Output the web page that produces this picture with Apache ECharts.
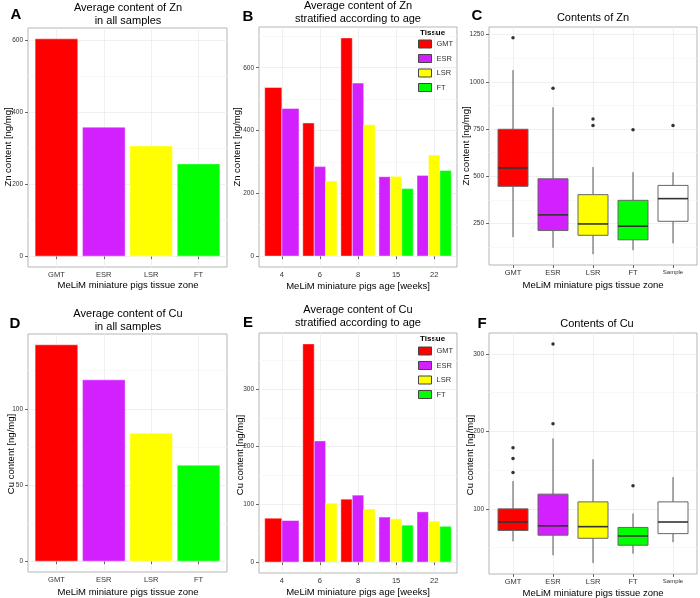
<!DOCTYPE html>
<html><head><meta charset="utf-8">
<script src="https://cdn.jsdelivr.net/npm/echarts@6/dist/echarts.min.js"></script>
<style>html,body{margin:0;padding:0;background:#fff}#c{width:700px;height:598px}</style>
</head><body><div id="c"></div>
<script>
// ---------------- DATA ----------------
const tissueZones = ['GMT', 'ESR', 'LSR', 'FT'];
const znMean = [603, 358, 306, 256];
const cuMean = [142, 119, 84, 63];

const ageWeeks = ['4', '6', '8', '15', '22'];
const znAgeGMT = [537, 424, 695, null, null];
const znAgeESR = [470, 285, 551, 253, 257];
const znAgeLSR = [null, 239, 418, 254, 322];
const znAgeFT  = [null, null, null, 215, 273];
const cuAgeGMT = [76, 378, 109, null, null];
const cuAgeESR = [72, 210, 116, 78, 87];
const cuAgeLSR = [null, 102, 92, 75, 71];
const cuAgeFT  = [null, null, null, 64, 62];

const boxZones = ['GMT', 'ESR', 'LSR', 'FT', 'Sample'];
const znBoxLow = [178, 122, 88, 109, 145];
const znBoxQ1  = [447, 213, 188, 164, 262];
const znBoxMed = [544, 296, 248, 236, 382];
const znBoxQ3  = [749, 487, 403, 373, 452];
const znBoxHigh = [1062, 865, 549, 522, 521];
const znOutlierZone = ['GMT', 'ESR', 'LSR', 'LSR', 'FT', 'Sample'];
const znOutlierVal  = [1233, 966, 804, 769, 746, 769];

const cuBoxLow = [58, 40, 30, 42, 57];
const cuBoxQ1  = [72, 66, 62, 53, 68];
const cuBoxMed = [83, 78, 77, 65, 83];
const cuBoxQ3  = [100, 119, 109, 76, 109];
const cuBoxHigh = [136, 191, 164, 94, 141];
const cuOutlierZone = ['GMT', 'GMT', 'GMT', 'ESR', 'ESR', 'FT'];
const cuOutlierVal  = [179, 165, 147, 313, 210, 130];

const znMeanTicks = [0, 200, 400, 600];
const znAgeTicks = [0, 200, 400, 600];
const znBoxTicks = [250, 500, 750, 1000, 1250];
const cuMeanTicks = [0, 50, 100];
const cuAgeTicks = [0, 100, 200, 300];
const cuBoxTicks = [100, 200, 300];

// ---------------- STYLE ----------------
const FONT = '"Liberation Sans", Arial, Helvetica, sans-serif';
const tissueColors = ['#ff0000', '#d220ff', '#ffff00', '#00ff00'];
const boxColors = ['#ff0000', '#d220ff', '#ffff00', '#00ff00', '#ffffff'];

function expand(lo, hi) { const d = hi - lo; return [lo - 0.05 * d, hi + 0.05 * d]; }
function minorOf(ticks, lo, hi) {
  const step = ticks[1] - ticks[0], out = [];
  for (let t = ticks[0] - step / 2; t <= hi; t += step) if (t >= lo) out.push(t);
  return out;
}
const nz = a => a.filter(v => v != null);

const panels = [
  { grid: {left: 28, top: 28, width: 199, height: 239}, cats: tissueZones, ticks: znMeanTicks,
    range: expand(0, Math.max(...znMean)) },
  { grid: {left: 259, top: 27, width: 198, height: 240}, cats: ageWeeks, ticks: znAgeTicks,
    range: expand(0, Math.max(...nz(znAgeGMT.concat(znAgeESR, znAgeLSR, znAgeFT)))) },
  { grid: {left: 489, top: 27, width: 208, height: 238}, cats: boxZones, ticks: znBoxTicks,
    range: expand(Math.min(...znBoxLow, ...znOutlierVal), Math.max(...znBoxHigh, ...znOutlierVal)) },
  { grid: {left: 28, top: 334, width: 199, height: 238}, cats: tissueZones, ticks: cuMeanTicks,
    range: expand(0, Math.max(...cuMean)) },
  { grid: {left: 259, top: 333, width: 198, height: 240}, cats: ageWeeks, ticks: cuAgeTicks,
    range: expand(0, Math.max(...nz(cuAgeGMT.concat(cuAgeESR, cuAgeLSR, cuAgeFT)))) },
  { grid: {left: 489, top: 333, width: 208, height: 241}, cats: boxZones, ticks: cuBoxTicks,
    range: expand(Math.min(...cuBoxLow, ...cuOutlierVal), Math.max(...cuBoxHigh, ...cuOutlierVal)) }
];

const grids = [], xAxes = [], yAxes = [];
panels.forEach((p, i) => {
  grids.push(Object.assign({ show: true, borderColor: '#b5b5b5', borderWidth: 1, backgroundColor: '#fff', containLabel: false }, p.grid));
  const idx = p.cats.map((c, k) => k + 1);
  xAxes.push({
    type: 'value', gridIndex: i, min: 0.4, max: p.cats.length + 0.6,
    axisLine: { show: false },
    axisTick: { show: true, customValues: idx, length: 3, lineStyle: { color: '#444', width: 0.8 } },
    axisLabel: { customValues: idx, margin: 4, fontSize: 7.5, color: '#333', fontFamily: FONT,
      formatter: v => { const n = p.cats[Math.round(v) - 1]; return n === 'Sample' ? '{s|Sample}' : n; },
      rich: { s: { fontSize: 6, color: '#333', fontFamily: FONT } } },
    splitLine: { show: true, lineStyle: { color: '#ececec', width: 0.8 } }
  });
  yAxes.push({
    type: 'value', gridIndex: i, min: p.range[0], max: p.range[1],
    axisLine: { show: false },
    axisTick: { show: true, customValues: p.ticks, length: 3, lineStyle: { color: '#444', width: 0.8 } },
    axisLabel: { customValues: p.ticks, margin: 5, fontSize: 6.5, color: '#333', fontFamily: FONT,
      formatter: v => String(Math.round(v)) },
    splitLine: { show: true, lineStyle: { color: '#ececec', width: 0.8 } }
  });
  yAxes.push({
    type: 'value', gridIndex: i, min: p.range[0], max: p.range[1], position: 'left',
    axisLine: { show: false },
    axisTick: { show: false, customValues: minorOf(p.ticks, p.range[0], p.range[1]) },
    axisLabel: { show: false },
    splitLine: { show: true, lineStyle: { color: '#f6f6f6', width: 0.8 } }
  });
});

function meanBars(values, gi) {
  return {
    type: 'custom', xAxisIndex: gi, yAxisIndex: 2 * gi,
    data: values.map((v, k) => [k + 1, v, k]),
    encode: { x: 0, y: 1 },
    renderItem: (params, api) => {
      const x = api.value(0), v = api.value(1), k = api.value(2);
      const p0 = api.coord([x - 0.45, 0]), p1 = api.coord([x + 0.45, v]);
      return { type: 'rect', shape: { x: p0[0], y: p1[1], width: p1[0] - p0[0], height: p0[1] - p1[1] },
        style: { fill: tissueColors[k], stroke: 'rgba(255,255,255,0.55)', lineWidth: 0.8 } };
    }
  };
}

function dodgeBars(seriesArrays, gi) {
  const out = [];
  seriesArrays.forEach((arr, t) => {
    const data = [];
    arr.forEach((v, a) => {
      if (v == null) return;
      const present = seriesArrays.map(s => s[a] != null);
      const n = present.filter(Boolean).length;
      const slot = present.slice(0, t).filter(Boolean).length;
      data.push([a + 1, v, slot, n]);
    });
    out.push({
      type: 'custom', name: tissueZones[t], xAxisIndex: gi, yAxisIndex: 2 * gi,
      itemStyle: { color: tissueColors[t] },
      data: data, encode: { x: 0, y: 1 },
      renderItem: (params, api) => {
        const x = api.value(0), v = api.value(1), slot = api.value(2), n = api.value(3);
        const w = 0.9 / n, x0 = x - 0.45 + slot * w;
        const p0 = api.coord([x0, 0]), p1 = api.coord([x0 + w, v]);
        return { type: 'rect', shape: { x: p0[0], y: p1[1], width: p1[0] - p0[0], height: p0[1] - p1[1] },
          style: { fill: tissueColors[t], stroke: 'rgba(255,255,255,0.55)', lineWidth: 0.8 } };
      }
    });
  });
  return out;
}

function boxes(lo, q1, med, q3, hi, gi) {
  return {
    type: 'custom', xAxisIndex: gi, yAxisIndex: 2 * gi,
    data: lo.map((v, k) => [k + 1, lo[k], q1[k], med[k], q3[k], hi[k], k]),
    encode: { x: 0, y: [1, 2, 3, 4, 5] },
    renderItem: (params, api) => {
      const x = api.value(0), k = api.value(6);
      const pLo = api.coord([x, api.value(1)]), pQ1 = api.coord([x, api.value(2)]);
      const pMed = api.coord([x - 0.375, api.value(3)]), pQ3 = api.coord([x, api.value(4)]);
      const pHi = api.coord([x, api.value(5)]);
      const l = api.coord([x - 0.375, 0])[0], r = api.coord([x + 0.375, 0])[0];
      const ws = { stroke: '#555', lineWidth: 1 };
      return { type: 'group', children: [
        { type: 'line', shape: { x1: pHi[0], y1: pHi[1], x2: pQ3[0], y2: pQ3[1] }, style: ws },
        { type: 'line', shape: { x1: pQ1[0], y1: pQ1[1], x2: pLo[0], y2: pLo[1] }, style: ws },
        { type: 'rect', shape: { x: l, y: pQ3[1], width: r - l, height: pQ1[1] - pQ3[1] },
          style: { fill: boxColors[k], stroke: '#666', lineWidth: 1 } },
        { type: 'line', shape: { x1: l, y1: pMed[1], x2: r, y2: pMed[1] }, style: { stroke: '#333', lineWidth: 1.6 } }
      ] };
    }
  };
}

function outliers(zones, vals, gi) {
  return {
    type: 'scatter', xAxisIndex: gi, yAxisIndex: 2 * gi, symbolSize: 3.5,
    itemStyle: { color: '#000' },
    data: vals.map((v, k) => [boxZones.indexOf(zones[k]) + 1, v])
  };
}

const series = [
  meanBars(znMean, 0),
  ...dodgeBars([znAgeGMT, znAgeESR, znAgeLSR, znAgeFT], 1),
  boxes(znBoxLow, znBoxQ1, znBoxMed, znBoxQ3, znBoxHigh, 2),
  outliers(znOutlierZone, znOutlierVal, 2),
  meanBars(cuMean, 3),
  ...dodgeBars([cuAgeGMT, cuAgeESR, cuAgeLSR, cuAgeFT], 4),
  boxes(cuBoxLow, cuBoxQ1, cuBoxMed, cuBoxQ3, cuBoxHigh, 5),
  outliers(cuOutlierZone, cuOutlierVal, 5)
];

function txt(x, y, text, size, opts) {
  return Object.assign({ type: 'text', x: x, y: y, silent: true,
    style: Object.assign({ text: text, font: (opts && opts.bold ? 'bold ' : '') + size + 'px ' + FONT,
      fill: (opts && opts.fill) || '#000', align: 'center', verticalAlign: 'middle' }, (opts && opts.style) || {}) },
    opts && opts.rot ? { rotation: Math.PI / 2 } : {});
}

const graphics = [
  txt(16, 15, 'A', 15, { bold: true }), txt(248, 17, 'B', 15, { bold: true }), txt(477, 16, 'C', 15, { bold: true }),
  txt(15, 324, 'D', 15, { bold: true }), txt(248, 323, 'E', 15, { bold: true }), txt(482, 324, 'F', 15, { bold: true }),
  txt(128, 7.5, 'Average content of Zn', 11), txt(128, 21, 'in all samples', 11),
  txt(358, 6, 'Average content of Zn', 11), txt(358, 18.5, 'stratified according to age', 11),
  txt(593, 17.5, 'Contents of Zn', 11),
  txt(128, 314, 'Average content of Cu', 11), txt(128, 327, 'in all samples', 11),
  txt(358, 310, 'Average content of Cu', 11), txt(358, 323, 'stratified according to age', 11),
  txt(597, 324, 'Contents of Cu', 11),
  txt(128, 285, 'MeLiM miniature pigs tissue zone', 9.5),
  txt(358, 286, 'MeLiM miniature pigs age [weeks]', 9.5),
  txt(593, 285, 'MeLiM miniature pigs tissue zone', 9.5),
  txt(128, 592.5, 'MeLiM miniature pigs tissue zone', 9.5),
  txt(358, 592.5, 'MeLiM miniature pigs age [weeks]', 9.5),
  txt(593, 593, 'MeLiM miniature pigs tissue zone', 9.5),
  txt(8, 147, 'Zn content [ng/mg]', 9.5, { rot: true }),
  txt(237, 147, 'Zn content [ng/mg]', 9.5, { rot: true }),
  txt(466, 146, 'Zn content [ng/mg]', 9.5, { rot: true }),
  txt(11, 454, 'Cu content [ng/mg]', 9.5, { rot: true }),
  txt(240, 455, 'Cu content [ng/mg]', 9.5, { rot: true }),
  txt(470, 455, 'Cu content [ng/mg]', 9.5, { rot: true }),
  txt(420, 33, 'Tissue', 8, { bold: true, style: { align: 'left' } }),
  txt(420, 339, 'Tissue', 8, { bold: true, style: { align: 'left' } })
];

function legend(top) {
  return { data: tissueZones, orient: 'vertical', left: 418, top: top, icon: 'rect',
    itemWidth: 13, itemHeight: 8, itemGap: 5.5, selectedMode: false, padding: 0,
    itemStyle: { borderColor: '#444', borderWidth: 1 },
    textStyle: { fontSize: 7.5, color: '#333', fontFamily: FONT } };
}

const chart = echarts.init(document.getElementById('c'), null, { renderer: 'canvas' });
chart.setOption({
  animation: false,
  backgroundColor: '#fff',
  grid: grids, xAxis: xAxes, yAxis: yAxes,
  legend: [legend(39.5), legend(346.5)],
  series: series,
  graphic: graphics
});
</script></body></html>
